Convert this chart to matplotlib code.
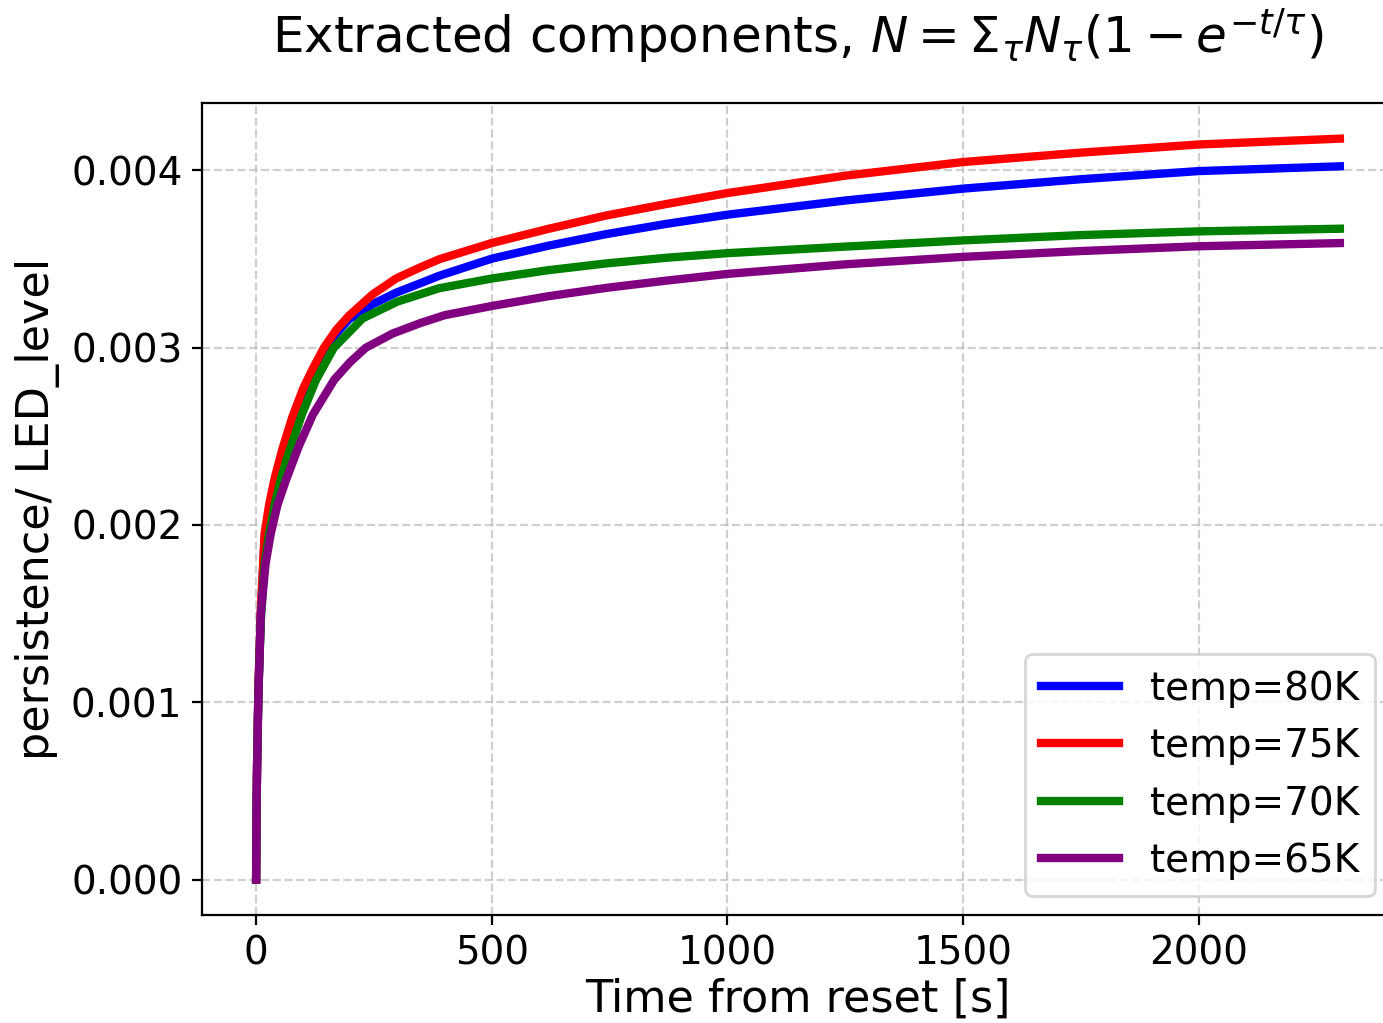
import matplotlib
matplotlib.use("Agg")
import matplotlib.pyplot as plt

# values (time in s, persistence / LED level)
t_80K = [0, 1, 2, 5, 10, 18, 28, 40, 56, 77, 100, 120, 144, 170, 197, 247, 297, 350, 388, 500, 620, 742, 870,
         1000, 1250, 1500, 1750, 2000, 2300]
n_80K = [0.0, 0.0004, 0.00064, 0.00108, 0.00149, 0.00192, 0.00209, 0.00224, 0.00241, 0.00259, 0.00275, 0.00286,
         0.00298, 0.00308, 0.00316, 0.003245, 0.00331, 0.003365, 0.003405, 0.003502, 0.003575, 0.00364, 0.003698,
         0.00375, 0.00383, 0.003897, 0.00395, 0.003996, 0.004023]

t_75K = [0, 1, 2, 5, 10, 18, 28, 40, 56, 77, 100, 120, 144, 170, 197, 247, 297, 350, 390, 500, 620, 742, 870,
         1000, 1250, 1500, 1750, 2000, 2300]
n_75K = [0.0, 0.0004, 0.00065, 0.0011, 0.00152, 0.00195, 0.00212, 0.00227, 0.00243, 0.00261, 0.00277, 0.00288,
         0.003, 0.0031, 0.00318, 0.0033, 0.00339, 0.003455, 0.0035, 0.00359, 0.00367, 0.003745, 0.00381,
         0.003872, 0.00397, 0.004047, 0.0041, 0.004146, 0.004179]

t_70K = [0, 1, 2, 5, 10, 18, 27.6, 40, 52, 66, 98, 127, 165, 226, 300, 388, 500, 620, 742, 870, 1000, 1250,
         1500, 1750, 2000, 2300]
n_70K = [0.0, 0.00039, 0.00063, 0.00106, 0.00146, 0.00178, 0.001953, 0.00212, 0.002254, 0.00238, 0.002629,
         0.002817, 0.003, 0.003165, 0.00326, 0.003335, 0.00339, 0.003437, 0.003475, 0.003507, 0.003533, 0.00357,
         0.003605, 0.003635, 0.003656, 0.003671]

t_65K = [0, 1, 2, 4.5, 10, 20, 31, 45, 63, 90, 120, 166, 200, 233, 290, 350, 400, 500, 620, 742, 870, 1000,
         1250, 1500, 1750, 2000, 2300]
n_65K = [0.0, 0.00038, 0.0006, 0.001, 0.0015, 0.00178, 0.00195, 0.00211, 0.00225, 0.00244, 0.00262,
         0.00282, 0.00292, 0.003, 0.00308, 0.00314, 0.003183, 0.003235, 0.00329, 0.003337, 0.003378, 0.003416,
         0.00347, 0.003512, 0.003545, 0.003572, 0.00359]

labels = ["temp=80K", "temp=75K", "temp=70K", "temp=65K"]
colors = ["blue", "red", "green", "purple"]

fig = plt.figure(figsize=(6.915, 5.115), dpi=200)
ax = fig.add_axes([0.146, 0.1056, 0.862, 0.7937])

series = [(t_80K, n_80K), (t_75K, n_75K), (t_70K, n_70K), (t_65K, n_65K)]
for (t, n), lab, c in zip(series, labels, colors):
    ax.plot(t, n, color=c, lw=3, label=lab)

ax.set_xlim(-115, 2415)
ax.set_ylim(-0.0002, 0.00438)
ax.set_xticks([0, 500, 1000, 1500, 2000])
ax.set_yticks([0.0, 0.001, 0.002, 0.003, 0.004])
ax.tick_params(labelsize=14)
ax.grid(linestyle="--", alpha=0.6)

ax.set_xlabel("Time from reset [s]", fontsize=16, labelpad=2)
ax.set_ylabel("persistence/ LED_level", fontsize=16)
ax.set_title(r"Extracted components, $N = \Sigma_{\tau} N_{\tau}(1 - e^{-t/\tau})$", fontsize=18, pad=18)
ax.legend(loc="lower right", fontsize=14)

fig.savefig("out.png", dpi=200)
